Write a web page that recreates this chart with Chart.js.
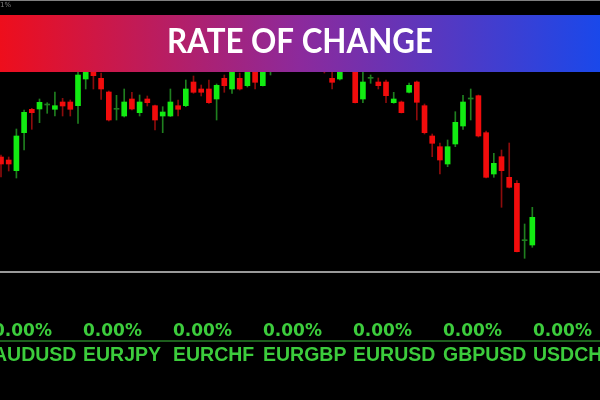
<!DOCTYPE html>
<html>
<head>
<meta charset="utf-8">
<script src="https://cdn.jsdelivr.net/npm/chart.js@4.4.1/dist/chart.umd.min.js"></script>
<style>
  html, body { margin: 0; padding: 0; background: #000; }
  #wrap { width: 600px; height: 400px; }
</style>
</head>
<body>
<div id="wrap"><canvas id="roc" width="600" height="400"></canvas></div>
<script>
// candle values (price level, higher = up)
const opens  = [143, 140, 129.3, 167.3, 190.7, 191, 195, 190.7, 198, 198,
                194.3, 221, 230, 221.7, 208, 190.7, 184, 201, 187.3, 201,
                194.3, 184, 184, 194.3, 194.3, 218, 211, 211, 201, 221.7,
                211, 221.7, 214.3, 230, 214.3, 238, 244, 248, 242, 246,
                238, 236, 240, 221.7, 221, 232, 235, 201, 221.7, 218,
                218, 197.3, 198, 207.7, 218, 194.3, 164, 153.3, 136, 156,
                174, 201, 204.3, 167.3, 126, 143.3, 122.7, 116.7, 59.3, 55];
const highs  = [145, 143, 171, 190, 191.7, 201, 197.3, 208, 201.7, 200,
                228, 238, 235, 227, 209, 204.7, 211, 207.7, 205, 204,
                195, 193.3, 211, 200, 220, 224, 215, 220, 216, 225,
                234, 227, 236, 234, 238, 250, 252, 256, 250, 251,
                245, 243, 244, 230, 236, 240, 240, 232, 225, 222,
                220, 207.7, 199, 217, 219, 196, 166, 157, 160, 188.3,
                204.7, 211, 205, 169, 146.7, 150, 157, 119.3, 76, 92.7];
const lows   = [123, 129, 122, 150, 170.7, 177.3, 186.7, 184, 184, 184,
                176.7, 211, 211, 200.7, 179, 180, 183, 190, 184, 194,
                170, 167.3, 183.5, 184, 193.3, 206.7, 204, 196.7, 180, 207.7,
                206.7, 210, 213, 211, 214, 225, 236, 240, 237, 236,
                232, 230, 227, 211, 220, 229, 197, 197.3, 216.7, 211,
                197.3, 196.7, 187, 207, 180, 166, 143.3, 126, 133.3, 153.3,
                170.7, 180, 163, 122, 122.7, 92.7, 112, 48, 41.7, 52.7];
const closes = [136, 136, 164, 187.7, 187.3, 197.7, 195, 194.3, 194, 190.7,
                225, 234, 224.3, 211, 180, 190.7, 198, 191, 198, 197.3,
                180, 188, 198, 190.7, 211, 207.7, 207.7, 197.3, 214.7, 214.3,
                230, 211, 232, 217.7, 234, 244, 248, 242, 246, 238,
                236, 240, 232, 217.7, 232, 236, 197.3, 218, 221.7, 214.3,
                204.3, 201, 187.3, 214.7, 197.7, 167.3, 156.7, 140, 153.3, 177.7,
                198, 201, 164, 122.7, 136.7, 129.3, 112.7, 48.3, 59.3, 82.7];

const pairs   = ['AUDUSD', 'EURJPY', 'EURCHF', 'EURGBP', 'EURUSD', 'GBPUSD', 'USDCHF'];
const changes = ['0.00%', '0.00%', '0.00%', '0.00%', '0.00%', '0.00%', '0.00%'];
const titleText = 'RATE OF CHANGE';

const UP = '#12ec12', DOWN = '#f20c0c', UP_WICK = '#1f7f1f', DOWN_WICK = '#8c0c0c';

const idx = opens.map((_, i) => i);
const isUp = i => closes[i] >= opens[i];
const isDoji = i => closes[i] === opens[i];

const wickData = idx.map(i => ({ x: i, y: [lows[i], highs[i]] }));
const bodyData = idx.map(i => ({ x: i, y: [opens[i], closes[i]] }));

const overlay = {
  id: 'overlay',
  beforeDraw(chart) {
    const c = chart.ctx;
    c.save();
    c.fillStyle = '#000';
    c.fillRect(0, 0, chart.width, chart.height);
    c.restore();
  },
  afterDraw(chart) {
    const c = chart.ctx;
    c.save();
    // thin frame line at top + tiny label
    c.fillStyle = '#808080';
    c.fillRect(0, 0, 600, 1);
    c.font = '7px "DejaVu Sans"';
    c.textBaseline = 'top';
    c.fillText('1%', 0, 2);

    // gradient banner
    const g = c.createLinearGradient(0, 0, 600, 0);
    g.addColorStop(0, '#ee0e1c');
    g.addColorStop(0.5, '#8c2a9c');
    g.addColorStop(1, '#1a48ea');
    c.fillStyle = g;
    c.fillRect(0, 15, 600, 57);

    // title, squeezed horizontally to the reference width
    c.fillStyle = '#fff';
    c.font = '700 35px Lato';
    c.textBaseline = 'alphabetic';
    c.textAlign = 'center';
    const w = c.measureText(titleText).width;
    c.save();
    c.translate(300, 53);
    c.scale(266 / w, 1);
    c.fillText(titleText, 0, 0);
    c.restore();
    c.textAlign = 'left';

    // gray separator
    c.fillStyle = '#9a9a9a';
    c.fillRect(0, 271, 600, 2);

    // green divider between the two text rows
    c.fillStyle = '#1d5e1d';
    c.fillRect(0, 340, 600, 2);

    c.fillStyle = '#3ccc3c';
    pairs.forEach((p, i) => {
      const x = -7 + 90 * i;
      c.font = 'bold 17px "DejaVu Sans"';
      c.fillText(changes[i], x, 336);
      c.font = 'bold 19.5px "Liberation Sans"';
      c.fillText(p, x, 361);
    });
    c.restore();
  }
};

new Chart(document.getElementById('roc'), {
  type: 'bar',
  data: {
    datasets: [
      {
        label: 'wick',
        data: wickData,
        barThickness: 1,
        grouped: false,
        order: 2,
        backgroundColor: ctx => isUp(ctx.dataIndex) ? UP_WICK : DOWN_WICK
      },
      {
        label: 'body',
        data: bodyData,
        barThickness: 5,
        minBarLength: 1,
        grouped: false,
        order: 1,
        backgroundColor: ctx => isDoji(ctx.dataIndex) ? UP_WICK : (isUp(ctx.dataIndex) ? UP : DOWN)
      }
    ]
  },
  options: {
    responsive: false,
    animation: false,
    layout: { padding: { top: 0, left: 0, right: 0, bottom: 100 } },
    plugins: { legend: { display: false }, tooltip: { enabled: false } },
    scales: {
      x: { type: 'linear', offset: false, min: -0.13, max: 77.79, display: false },
      y: { min: 0, max: 300, display: false }
    }
  },
  plugins: [overlay]
});
</script>
</body>
</html>
